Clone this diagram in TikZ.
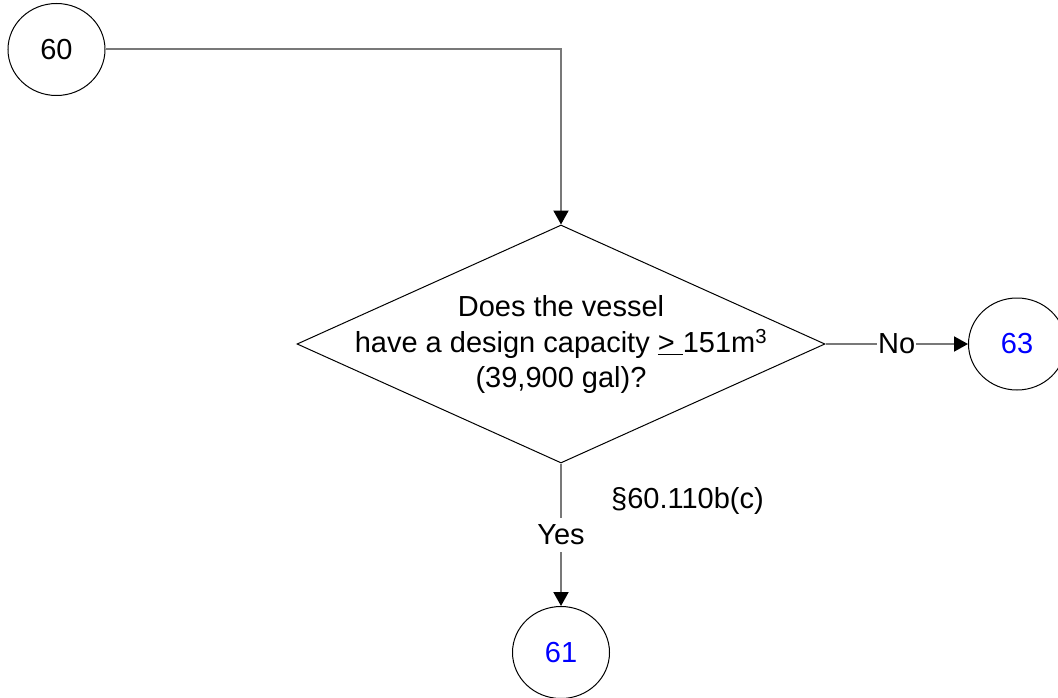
\documentclass[tikz,border=0pt]{standalone}
\usepackage{fontspec}
\setmainfont{Liberation Sans}
\usetikzlibrary{shapes.geometric,arrows.meta}
\definecolor{connc}{RGB}{120,120,120}
\definecolor{numblue}{RGB}{0,0,255}
\begin{document}
\begin{tikzpicture}[x=1pt,y=-1pt,
  font=\fontsize{29}{35.5}\selectfont,
  conn/.style={draw=connc, line width=2pt},
  arr/.style={-{Triangle[length=14pt,width=15pt,color=black]}},
  term/.style={ellipse, draw=black, line width=1pt, minimum width=97pt, minimum height=92pt, inner sep=0pt},
  decision/.style={diamond, draw=black, line width=1pt, minimum width=528pt, minimum height=238pt, inner sep=0pt},
  lbl/.style={fill=white, inner xsep=1pt, inner ysep=7pt}]
\useasboundingbox (0,0) rectangle (1058,698);
\node[term] (c60) at (56.5,49.5) {60};
\node[decision] (d) at (561,344) {};
\node[align=center, inner sep=0pt] (q) at (561,345) {Does the vessel\\have a design capacity \underline{>\ }151m\textsuperscript{3}\\(39,900 gal)?};
\node[term, text=numblue] (c63) at (1017,344) {63};
\node[term, text=numblue] (c61) at (561,652.5) {61};
\draw[conn, arr] (c60.east) -| (d.north);
\draw[conn, arr] (d.east) -- node[lbl] (no) {No} (c63.west);
\draw[conn, arr] (d.south) -- node[lbl] (yes) {Yes} (c61.north);
\node[anchor=west, inner sep=0pt] (ref) at (611,501) {\S60.110b(c)};
\end{tikzpicture}
\end{document}
